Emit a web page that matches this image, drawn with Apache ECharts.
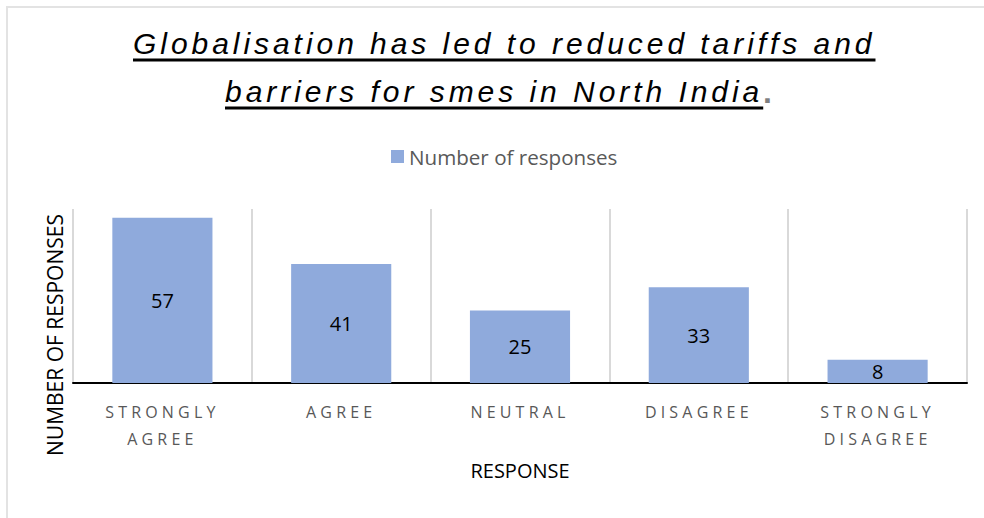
<!DOCTYPE html>
<html>
<head>
<meta charset="utf-8">
<script src="https://cdn.jsdelivr.net/npm/echarts@6/dist/echarts.min.js"></script>
<style>
  html, body { margin: 0; padding: 0; background: #fff; }
  #frame { position: absolute; left: 6px; top: 6px; width: 1000px; height: 600px; border-left: 2px solid #e3e3e3; border-top: 2px solid #e3e3e3; }
  #chart { position: absolute; left: 0; top: 0; width: 984px; height: 518px; }
  #chart text[fill="#010101"] { letter-spacing: 3.95px; text-decoration: underline; }
  #chart text[fill="#585858"] { letter-spacing: 4.2px; }
</style>
</head>
<body>
<div id="frame"></div>
<div id="chart"></div>
<script>
const titleLine1 = "Globalisation has led to reduced tariffs and";
const titleLine2 = "barriers for smes in North India";
const titleEnd = ".";
const seriesName = "Number of responses";
const categories = ["STRONGLY AGREE", "AGREE", "NEUTRAL", "DISAGREE", "STRONGLY DISAGREE"];
const values = [57, 41, 25, 33, 8];
const xAxisTitle = "RESPONSE";
const yAxisTitle = "NUMBER OF RESPONSES";

const chart = echarts.init(document.getElementById('chart'), null, { renderer: 'svg' });
const titleFont = { fontFamily: 'Liberation Sans, Arial, sans-serif', fontStyle: 'italic', fontSize: 30, fontWeight: 'normal' };
chart.setOption({
  backgroundColor: 'transparent',
  animation: false,
  title: [
    { text: titleLine1, left: 133, top: 28, padding: 0, textAlign: 'left', textStyle: Object.assign({ color: '#010101' }, titleFont) },
    { text: titleLine2, left: 225, top: 76, padding: 0, textAlign: 'left', textStyle: Object.assign({ color: '#010101' }, titleFont) },
    { text: titleEnd, left: 763, top: 76, padding: 0, textAlign: 'left', textStyle: Object.assign({}, titleFont, { color: '#7f7f7f', fontWeight: 'bold', fontStyle: 'normal', fontSize: 32 }) }
  ],
  legend: {
    data: [seriesName],
    left: 391, top: 146, padding: 0,
    icon: 'rect', itemWidth: 13, itemHeight: 13, itemGap: 7,
    textStyle: { color: '#595959', fontSize: 20.6, fontFamily: 'Open Sans, sans-serif' }
  },
  grid: { left: 73, right: 17, top: 209, bottom: 135, containLabel: false },
  xAxis: {
    type: 'category',
    data: categories,
    name: xAxisTitle,
    nameLocation: 'middle',
    nameGap: 77,
    nameTextStyle: { color: '#000000', fontSize: 20, fontFamily: 'Open Sans, sans-serif' },
    axisLine: { lineStyle: { color: '#000000', width: 2 } },
    axisTick: { show: false },
    splitLine: { show: true, lineStyle: { color: '#d9d9d9', width: 2 } },
    axisLabel: {
      color: '#585858', fontSize: 16, fontFamily: 'Open Sans, sans-serif',
      lineHeight: 27, margin: 15, interval: 0,
      formatter: v => v.replace(' ', '\n')
    }
  },
  yAxis: {
    type: 'value', min: 0, max: 60,
    name: yAxisTitle,
    nameLocation: 'middle',
    nameRotate: 90,
    nameGap: 8,
    nameTextStyle: { color: '#000000', fontSize: 21, fontFamily: 'Open Sans, sans-serif', padding: [0, 78, 0, 0] },
    axisLine: { show: false },
    axisTick: { show: false },
    axisLabel: { show: false },
    splitLine: { show: false }
  },
  series: [{
    name: seriesName,
    type: 'bar',
    data: values,
    barWidth: '56%',
    itemStyle: { color: '#8faadc' },
    label: { show: true, position: 'inside', color: '#000000', fontSize: 20, fontFamily: 'Open Sans, sans-serif' }
  }]
});
</script>
</body>
</html>
